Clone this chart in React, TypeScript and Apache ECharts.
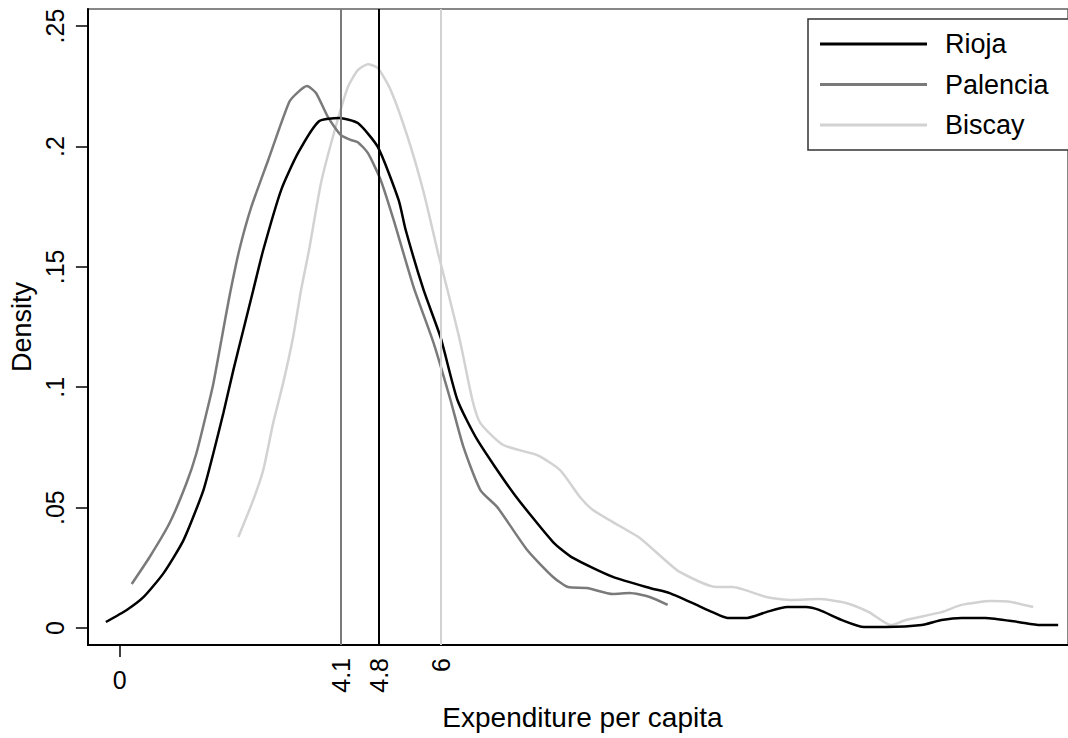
import React, { useEffect, useRef } from "react";
import * as echarts from "echarts";

// Kernel density curves (x = expenditure per capita, y = density)
const riojaX = [-0.26, 0.13, 0.446, 0.818, 1.19, 1.562, 1.748, 1.934, 2.12, 2.306, 2.492, 2.678, 3.012, 3.328, 3.719, 4.091, 4.444, 4.816, 5.206, 5.337, 5.671, 5.987, 6.303, 6.675, 7.345, 8.088, 8.46, 9.204, 9.892, 10.264, 10.766, 11.064, 11.342, 11.714, 12.068, 12.458, 12.811, 13.053, 13.481, 13.89, 14.299, 14.968, 15.34, 15.712, 16.158, 16.772, 17.181, 17.516];
const riojaY = [0.0025, 0.0075, 0.0129, 0.0228, 0.0365, 0.0573, 0.0727, 0.0893, 0.1071, 0.1238, 0.1404, 0.157, 0.1819, 0.1973, 0.2105, 0.2118, 0.2097, 0.1998, 0.1777, 0.1653, 0.1404, 0.1208, 0.0947, 0.0781, 0.0561, 0.0357, 0.0291, 0.0212, 0.0166, 0.0145, 0.0096, 0.0066, 0.0042, 0.0042, 0.0066, 0.0087, 0.0087, 0.0075, 0.0033, 0.0004, 0.0004, 0.0012, 0.0033, 0.0042, 0.0042, 0.0025, 0.0012, 0.0012];

const palenciaX = [0.223, 0.558, 0.93, 1.246, 1.432, 1.618, 1.748, 1.897, 2.045, 2.231, 2.454, 2.771, 3.161, 3.328, 3.496, 3.663, 3.886, 4.128, 4.314, 4.444, 4.63, 4.872, 5.113, 5.485, 5.857, 6.173, 6.415, 6.731, 7.047, 7.605, 8.088, 8.367, 8.721, 9.204, 9.52, 9.892, 10.227];
const palenciaY = [0.0183, 0.0295, 0.0436, 0.0602, 0.0727, 0.0893, 0.1017, 0.1196, 0.1375, 0.157, 0.1748, 0.1944, 0.2184, 0.2226, 0.2251, 0.2222, 0.2122, 0.2047, 0.2027, 0.2018, 0.1973, 0.186, 0.1694, 0.1416, 0.1184, 0.0947, 0.0752, 0.0573, 0.0502, 0.0324, 0.0212, 0.017, 0.0166, 0.0141, 0.0145, 0.0129, 0.0096];

const biscayX = [2.213, 2.492, 2.678, 2.863, 3.049, 3.235, 3.384, 3.533, 3.756, 3.998, 4.258, 4.444, 4.63, 4.816, 5.058, 5.374, 5.671, 5.95, 6.117, 6.359, 6.582, 6.731, 7.159, 7.791, 8.219, 8.59, 8.832, 9.204, 9.706, 10.134, 10.45, 11.138, 11.435, 12.068, 12.551, 13.053, 13.555, 13.983, 14.392, 14.671, 15.34, 15.712, 16.27, 16.642, 17.051];
const biscayY = [0.0378, 0.0532, 0.0656, 0.0851, 0.1017, 0.1208, 0.1404, 0.157, 0.1848, 0.2056, 0.2247, 0.2317, 0.2342, 0.2326, 0.2234, 0.2039, 0.1811, 0.1549, 0.1404, 0.1184, 0.0947, 0.0851, 0.076, 0.0718, 0.0656, 0.0544, 0.049, 0.044, 0.0374, 0.0291, 0.0233, 0.017, 0.017, 0.0129, 0.0116, 0.012, 0.0104, 0.0066, 0.0012, 0.0033, 0.0066, 0.0096, 0.0112, 0.0108, 0.0087];

const seriesNames = ["Rioja", "Palencia", "Biscay"];
const seriesColors = ["#000000", "#7a7a7a", "#d2d2d2"];
// Mean expenditure per region (vertical reference lines)
const meanValues = [4.83, 4.13, 6.0];
const meanLabels = ["4.8", "4.1", "6"];

const xTickValues = [0];
const xTickLabels = ["0"];
const yTickValues = [0, 0.05, 0.1, 0.15, 0.2, 0.25];
const yTickLabels = ["0", ".05", ".1", ".15", ".2", ".25"];

const FONT = "'Liberation Sans', Arial, Helvetica, sans-serif";

const zip = (xs: number[], ys: number[]) => xs.map((x, i) => [x, ys[i]]);

export default function App() {
  const ref = useRef<HTMLDivElement>(null);

  useEffect(() => {
    if (!ref.current) return;
    const chart = echarts.init(ref.current, null, { renderer: "svg" });
    const curves = [zip(riojaX, riojaY), zip(palenciaX, palenciaY), zip(biscayX, biscayY)];
    const xMin = -0.595;
    const xMax = 17.7;

    const option = {
      animation: false,
      backgroundColor: "#ffffff",
      textStyle: { fontFamily: FONT },
      grid: {
        left: 86,
        right: -2,
        top: 9,
        bottom: 93,
        show: true,
        borderColor: "#606060",
        borderWidth: 1.5,
        backgroundColor: "transparent",
      },
      legend: {
        orient: "vertical",
        left: 808,
        top: 19,
        data: seriesNames.map((n) => ({ name: n, icon: "rect" })),
        itemWidth: 107,
        itemHeight: 3,
        itemGap: 10.5,
        padding: [10, 40, 10, 12],
        borderColor: "#333333",
        borderWidth: 1.5,
        backgroundColor: "#ffffff",
        selectedMode: false,
        textStyle: {
          fontFamily: FONT,
          fontSize: 27,
          color: "#000",
          lineHeight: 30,
          padding: [0, 0, 0, 13],
        },
      },
      xAxis: [
        {
          type: "value",
          min: xMin,
          max: xMax,
          name: "Expenditure per capita",
          nameLocation: "middle",
          nameGap: 58,
          nameTextStyle: { fontFamily: FONT, fontSize: 28, color: "#000", padding: [0, 0, 0, 9] },
          axisLine: { show: true, onZero: false, lineStyle: { color: "#000", width: 2 } },
          axisTick: { show: true, length: 12, customValues: xTickValues, lineStyle: { color: "#000", width: 1.5 } },
          axisLabel: {
            show: true,
            customValues: xTickValues,
            margin: 22,
            fontFamily: FONT,
            fontSize: 25,
            color: "#000",
            formatter: (v: number) => {
              const i = xTickValues.indexOf(v);
              return i >= 0 ? xTickLabels[i] : "";
            },
          },
          splitLine: { show: false },
        },
        {
          type: "value",
          position: "bottom",
          min: xMin,
          max: xMax,
          axisLine: { show: false, onZero: false },
          axisTick: { show: false },
          splitLine: { show: false },
          axisLabel: {
            show: true,
            customValues: meanValues,
            rotate: 90,
            margin: 13,
            fontFamily: FONT,
            fontSize: 25,
            color: "#000",
            formatter: (v: number) => {
              let best = 0;
              meanValues.forEach((m, i) => {
                if (Math.abs(m - v) < Math.abs(meanValues[best] - v)) best = i;
              });
              return meanLabels[best];
            },
          },
        },
      ],
      yAxis: {
        type: "value",
        min: -0.00706,
        max: 0.2571,
        name: "Density",
        nameLocation: "middle",
        nameGap: 50,
        nameTextStyle: { fontFamily: FONT, fontSize: 27, color: "#000" },
        axisLine: { show: true, onZero: false, lineStyle: { color: "#000", width: 2 } },
        axisTick: { show: true, length: 12, customValues: yTickValues, lineStyle: { color: "#000", width: 1.5 } },
        axisLabel: {
          show: true,
          customValues: yTickValues,
          rotate: 90,
          margin: 20,
          fontFamily: FONT,
          fontSize: 25,
          color: "#000",
          formatter: (v: number) => {
            let best = 0;
            yTickValues.forEach((m, i) => {
              if (Math.abs(m - v) < Math.abs(yTickValues[best] - v)) best = i;
            });
            return yTickLabels[best];
          },
        },
        splitLine: { show: false },
      },
      series: seriesNames.map((name, i) => ({
        name,
        type: "line",
        xAxisIndex: 0,
        data: curves[i],
        symbol: "none",
        showSymbol: false,
        smooth: 0.2,
        z: 3 - i,
        lineStyle: { color: seriesColors[i], width: 2.5 },
        itemStyle: { color: seriesColors[i] },
        markLine: {
          silent: true,
          symbol: ["none", "none"],
          label: { show: false },
          lineStyle: { color: seriesColors[i], width: 2, type: "solid" },
          data: [{ xAxis: meanValues[i] }],
        },
      })),
    };

    chart.setOption(option as any);
    return () => chart.dispose();
  }, []);

  return <div ref={ref} style={{ width: 1068, height: 738, position: "absolute", left: 0, top: 0 }} />;
}
